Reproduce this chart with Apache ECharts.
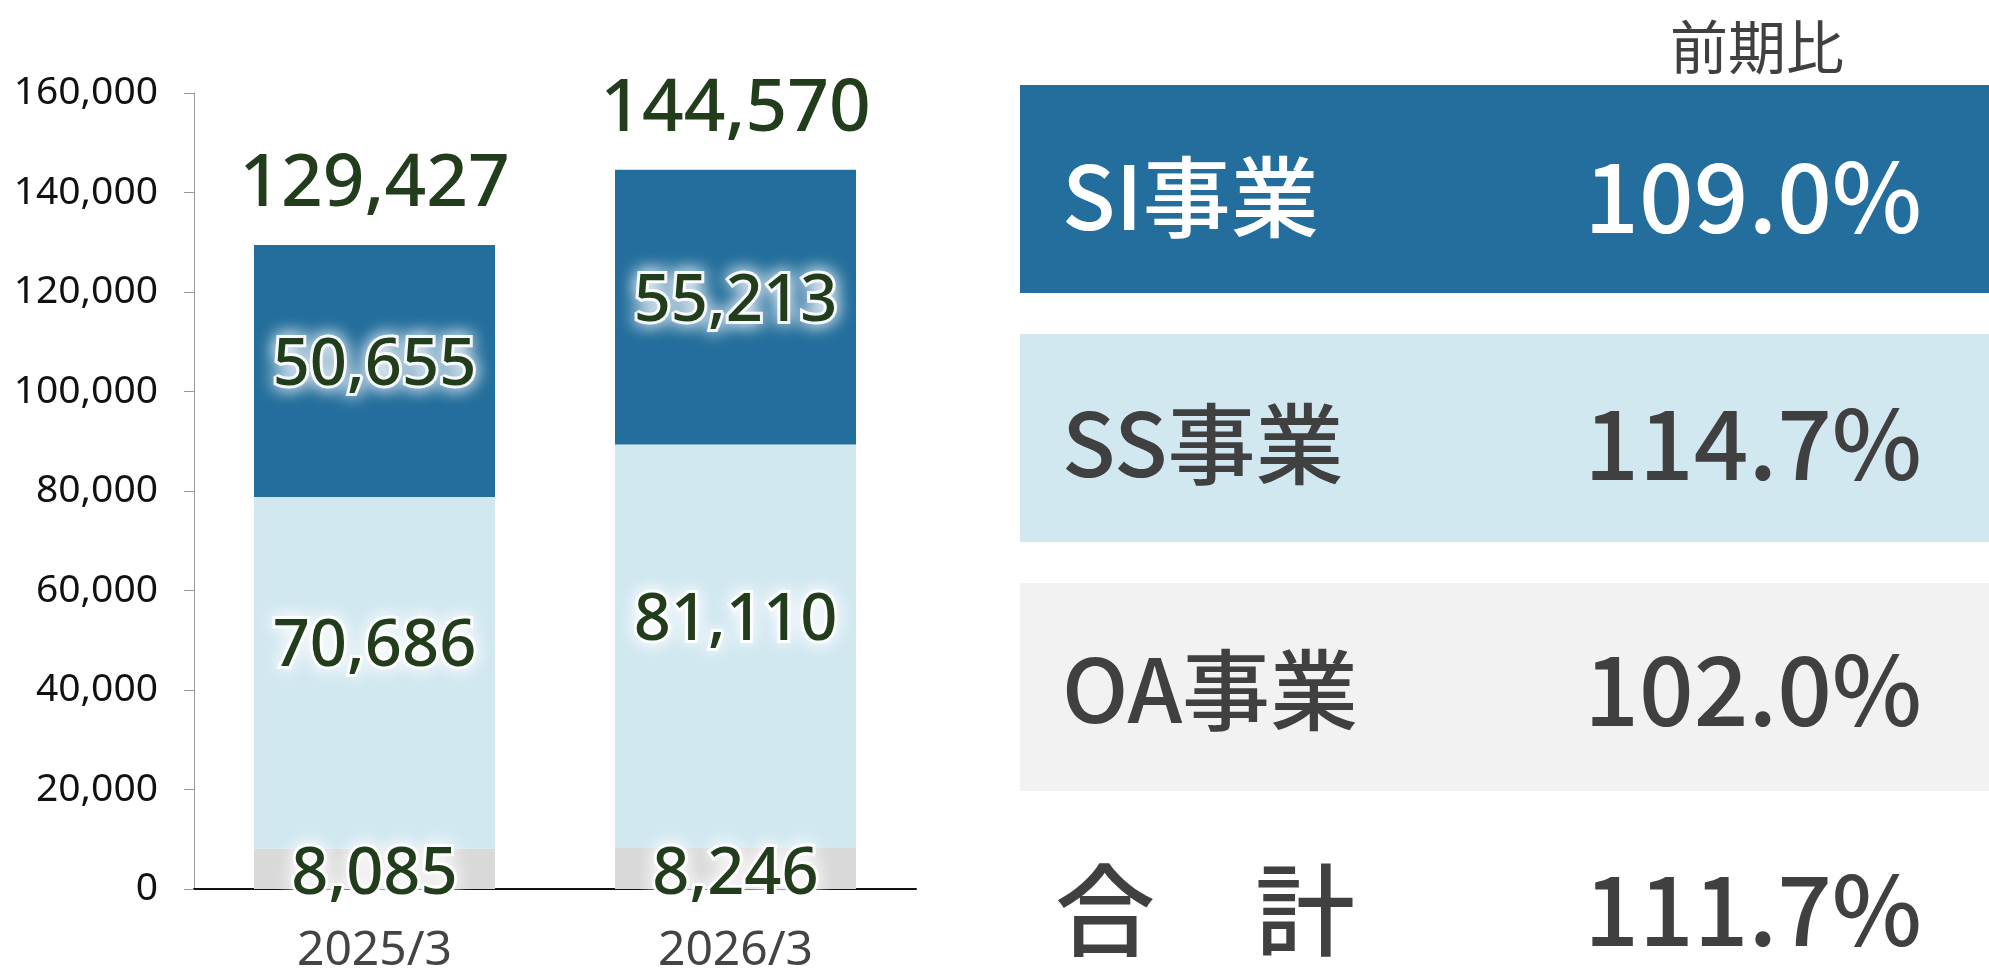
<!DOCTYPE html>
<html>
<head>
<meta charset="utf-8">
<script src="https://cdn.jsdelivr.net/npm/echarts@6/dist/echarts.min.js"></script>
<style>
  html, body { margin: 0; padding: 0; background: #fff; }
  #main { width: 1989px; height: 975px; }
</style>
</head>
<body>
<div id="main"></div>
<script>
// 売上高（百万円）
var categories = ['2025/3', '2026/3']
var oaValues = [8085, 8246]
var ssValues = [70686, 81110]
var siValues = [50655, 55213]
var totals = [129427, 144570]

// 前期比
var rowNames = ['SI事業', 'SS事業', 'OA事業', '合　計']
var ratios = [109.0, 114.7, 102.0, 111.7]

var myChart = echarts.init(document.getElementById('main'))

function fmt (v) {
  return Number(v).toLocaleString('en-US')
}

var segLabel = function (offsetY) {
  return {
    show: true,
    position: 'inside',
    offset: [0, offsetY],
    formatter: function (p) { return fmt(p.value) },
    fontFamily: 'Noto Sans',
    fontWeight: 500,
    fontSize: 65,
    color: '#223d1c',
    textBorderColor: 'rgba(255,255,255,0.9)',
    textBorderWidth: 6,
    textShadowColor: '#ffffff',
    textShadowBlur: 18
  }
}

// 右側の前期比パネル
var boxColors = ['#236e9c', '#d1e8f1', '#f2f2f3', null]
var textColors = ['#ffffff', '#404040', '#404040', '#404040']
var boxTop = [85, 334, 583]
var rowCenter = [197, 444, 690, 910]
var graphics = [{
  type: 'text',
  style: {
    text: '前期比',
    x: 1757,
    y: 47,
    font: '58px "Noto Sans CJK JP"',
    fill: '#404040',
    textAlign: 'center',
    textVerticalAlign: 'middle'
  }
}]
rowNames.forEach(function (name, i) {
  if (boxColors[i]) {
    graphics.push({
      type: 'rect',
      shape: { x: 1020, y: boxTop[i], width: 969, height: 208 },
      style: { fill: boxColors[i] }
    })
  }
  var isTotal = i === rowNames.length - 1
  graphics.push({
    type: 'text',
    z: 10,
    style: {
      text: name,
      x: isTotal ? 1055 : 1062,
      y: rowCenter[i],
      font: '500 ' + (isTotal ? 100 : 88) + 'px "Noto Sans CJK JP"',
      fill: textColors[i],
      textAlign: 'left',
      textVerticalAlign: 'middle'
    }
  })
  graphics.push({
    type: 'text',
    z: 10,
    style: {
      text: ratios[i].toFixed(1) + '%',
      x: 1922,
      y: rowCenter[i],
      font: '500 96px "Noto Sans CJK JP"',
      fill: textColors[i],
      textAlign: 'right',
      textVerticalAlign: 'middle'
    }
  })
})

var option = {
  animation: false,
  backgroundColor: '#ffffff',
  grid: {
    left: 194,
    right: 1073,
    top: 93,
    bottom: 86
  },
  xAxis: {
    type: 'category',
    data: categories,
    axisLine: { lineStyle: { color: '#111', width: 2 } },
    axisTick: { show: false },
    axisLabel: {
      fontFamily: 'Noto Sans',
      fontSize: 48,
      color: '#444',
      margin: 38
    }
  },
  yAxis: {
    type: 'value',
    min: 0,
    max: 160000,
    interval: 20000,
    axisLine: { show: true, lineStyle: { color: '#999', width: 1 } },
    axisTick: { show: true, length: 10, lineStyle: { color: '#999' } },
    splitLine: { show: false },
    axisLabel: {
      formatter: fmt,
      fontFamily: 'Noto Sans',
      fontSize: 39,
      color: '#111',
      margin: 36
    }
  },
  series: [
    {
      name: 'OA事業',
      type: 'bar',
      stack: 'sales',
      barWidth: 241,
      data: oaValues,
      itemStyle: { color: '#d9d9d9' },
      label: segLabel(7),
      z: 3
    },
    {
      name: 'SS事業',
      type: 'bar',
      stack: 'sales',
      barWidth: 241,
      data: ssValues,
      itemStyle: { color: '#d1e8f1' },
      label: segLabel(-25),
      z: 2
    },
    {
      name: 'SI事業',
      type: 'bar',
      stack: 'sales',
      barWidth: 241,
      data: siValues,
      itemStyle: { color: '#236e9c' },
      label: segLabel(-5),
      z: 2
    },
    {
      name: '合計',
      type: 'scatter',
      data: totals,
      symbolSize: 0,
      silent: true,
      itemStyle: { opacity: 1 },
      label: {
        show: true,
        position: 'top',
        distance: 23,
        formatter: function (p) { return fmt(p.value) },
        fontFamily: 'Noto Sans',
        fontWeight: 500,
        fontSize: 73,
        color: '#223d1c'
      },
      z: 5
    }
  ],
  graphic: graphics
}

myChart.setOption(option)
</script>
</body>
</html>
